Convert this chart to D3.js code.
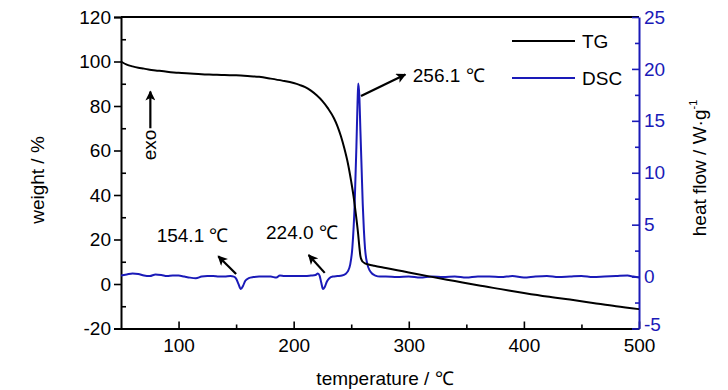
<!DOCTYPE html>
<html><head><meta charset="utf-8">
<script src="https://cdn.jsdelivr.net/npm/d3@7"></script>
<style>body{margin:0;background:#fff}svg{display:block}text{font-family:"Liberation Sans",Arial,sans-serif}</style>
</head><body><svg id="c" width="728" height="390"></svg>
<script>
// ---- data ----
const tgTemp   = [50,55,60,65,70,75,80,90,100,110,120,130,140,150,160,170,180,190,200,205,210,215,220,225,230,235,238,241,244,247,250,252,254,256,257,258,259,260,262,265,270,280,290,300,320,340,360,380,400,420,440,460,480,500];
const tgWeight = [100,98.6,97.8,97.2,96.8,96.3,96.0,95.4,94.9,94.6,94.3,94.1,93.9,93.8,93.5,93.1,92.3,91.4,90.3,89.5,88.5,86.9,84.8,82.2,78.8,74.5,71.0,66.5,61.0,54.5,46.0,39.5,31.5,22.5,17.0,12.5,10.8,10.0,9.3,8.8,8.2,7.2,6.2,5.2,3.2,1.3,-0.6,-2.3,-4.0,-5.6,-7.0,-8.5,-10.0,-11.3];
const dscTemp  = [50,55,60,65,70,75,80,85,90,95,100,105,110,115,120,125,130,135,140,145,148,150,152,154.1,156,158,161,165,170,175,180,185,188,192,200,205,210,215,219,221,222.5,224,225.5,227,229,231,234,238,242,245,247,249,251,253,254.5,255.5,256.1,257,258,259,260,261,262,264,266,268,271,275,280,290,300,310,320,330,340,350,360,370,380,390,400,410,420,430,440,450,460,470,480,490,495,500];
const dscFlow  = [0.1,0.2,0.3,0.25,0.1,0.05,0.2,0.15,0.05,0.1,0.1,0.0,-0.1,-0.15,0.0,0.05,0.05,0.0,0.0,0.05,0.0,-0.2,-0.7,-1.2,-0.9,-0.4,-0.15,-0.05,0.0,0.0,0.0,-0.1,0.1,0.05,0.05,0.05,0.05,0.1,0.15,0.3,0.1,-0.6,-1.2,-1.0,-0.45,-0.15,0.0,0.05,0.1,0.25,0.5,1.1,2.8,7.0,12.5,16.8,18.6,17.5,14.0,10.5,7.0,4.5,2.7,1.2,0.6,0.3,0.1,0.0,0.0,-0.05,0.0,-0.1,0.0,-0.05,0.0,-0.1,0.0,0.0,-0.05,0.05,-0.1,0.0,0.05,-0.05,0.0,0.05,-0.05,0.0,0.05,0.1,0.0,-0.1];
const xTicks = [100,200,300,400,500];
const xMinor = [150,250,350,450];
const yTicks = [-20,0,20,40,60,80,100,120];
const yMinor = [-10,10,30,50,70,90,110];
const y2Ticks = [-5,0,5,10,15,20,25];
const y2Minor = [-2.5,2.5,7.5,12.5,17.5,22.5];
const seriesNames = ["TG","DSC"];
// annotations in data units (temperature / weight %)
const notes = [
  {label:"256.1 \u2103", tx:303.5, ty:93, x0:258.5, y0:84.5, x1:297, y1:94.2},
  {label:"154.1 \u2103", tx:81, ty:21, x0:150, y0:4.5, x1:134.5, y1:12.5},
  {label:"224.0 \u2103", tx:176, ty:22.5, x0:227, y0:5, x1:213, y1:13}
];

const svg = d3.select("#c");
const L=121, R=639, T=17, B=328.5;
const x = d3.scaleLinear().domain([50,500]).range([L,R]);
const y = d3.scaleLinear().domain([-20,120]).range([B,T]);
const y2 = d3.scaleLinear().domain([-5,25]).range([B,T]);
const blue = "#1a1ab8";
const fmt = d => String(d);

svg.append("defs").append("marker").attr("id","ah").attr("viewBox","0 0 10 10")
  .attr("refX",9).attr("refY",5).attr("markerWidth",5).attr("markerHeight",4.5)
  .attr("markerUnits","strokeWidth").attr("orient","auto")
  .append("path").attr("d","M0,0 L10,5 L0,10 L2.5,5 z").attr("fill","#000");

// frame top
svg.append("line").attr("x1",L).attr("x2",R).attr("y1",T).attr("y2",T).attr("stroke","#000").attr("stroke-width",2);

// left axis
const gl = svg.append("g").attr("transform",`translate(${L},0)`);
gl.call(d3.axisLeft(y).tickValues(yTicks).tickSize(7).tickPadding(3).tickFormat(fmt));
gl.append("g").call(d3.axisRight(y).tickValues(yMinor).tickSize(5).tickFormat("")).select(".domain").remove();
gl.selectAll(".domain").attr("stroke-width",2);
gl.selectAll("line").attr("stroke-width",1.6);
gl.selectAll("text").attr("font-size",19).attr("fill","#000");

// bottom axis
const gb = svg.append("g").attr("transform",`translate(0,${B})`);
gb.call(d3.axisBottom(x).tickValues(xTicks).tickSize(0).tickPadding(10).tickFormat(fmt));
gb.selectAll(".domain").attr("stroke-width",2);
gb.selectAll("text").attr("font-size",19).attr("fill","#000");
gb.append("g").call(d3.axisTop(x).tickValues(xTicks).tickSize(7).tickFormat("")).select(".domain").remove();
gb.append("g").call(d3.axisTop(x).tickValues(xMinor).tickSize(4).tickFormat("")).select(".domain").remove();
gb.selectAll("line").attr("stroke-width",1.6);

// right axis
const gr = svg.append("g").attr("transform",`translate(${R},0)`);
gr.call(d3.axisRight(y2).tickValues(y2Ticks).tickSize(0).tickPadding(5).tickFormat(fmt));
gr.selectAll(".domain").attr("stroke",blue).attr("stroke-width",2);
gr.selectAll("text").attr("font-size",19).attr("fill",blue);
gr.selectAll(".tick text").filter(d=>d===-5).attr("dy","0.1em");
gr.append("g").call(d3.axisLeft(y2).tickValues(y2Ticks).tickSize(7).tickFormat("")).select(".domain").remove();
gr.append("g").call(d3.axisLeft(y2).tickValues(y2Minor).tickSize(4).tickFormat("")).select(".domain").remove();
gr.selectAll("line").attr("stroke",blue).attr("stroke-width",1.6);

// lines
const tgData = tgTemp.map((t,i)=>[t,tgWeight[i]]);
const dscData = dscTemp.map((t,i)=>[t,dscFlow[i]]);
svg.append("path").datum(dscData).attr("fill","none").attr("stroke",blue).attr("stroke-width",2)
  .attr("d",d3.line().x(d=>x(d[0])).y(d=>y2(d[1])).curve(d3.curveMonotoneX));
svg.append("path").datum(tgData).attr("fill","none").attr("stroke","#000").attr("stroke-width",2)
  .attr("d",d3.line().x(d=>x(d[0])).y(d=>y(d[1])).curve(d3.curveMonotoneX));

// legend
const lg = svg.append("g");
seriesNames.forEach((n,i)=>{
  const yy = 41 + i*37;
  lg.append("line").attr("x1",512).attr("x2",575).attr("y1",yy).attr("y2",yy)
    .attr("stroke",i?blue:"#000").attr("stroke-width",2);
  lg.append("text").attr("x",582).attr("y",yy+7).attr("font-size",19).text(n);
});

// annotations
notes.forEach(n=>{
  svg.append("text").attr("x",x(n.tx)).attr("y",y(n.ty)).attr("font-size",19).attr("dominant-baseline","middle").text(n.label);
  svg.append("line").attr("x1",x(n.x0)).attr("y1",y(n.y0)).attr("x2",x(n.x1)).attr("y2",y(n.y1))
    .attr("stroke","#000").attr("stroke-width",2.2).attr("marker-end","url(#ah)");
});

// exo
svg.append("line").attr("x1",x(75.5)).attr("x2",x(75.5)).attr("y1",y(70)).attr("y2",y(86.5))
  .attr("stroke","#000").attr("stroke-width",2.2).attr("marker-end","url(#ah)");
svg.append("text").attr("transform",`translate(${x(75.5)+6},${y(62.5)}) rotate(-90)`)
  .attr("text-anchor","middle").attr("font-size",19).text("exo");

// axis titles
svg.append("text").attr("transform","translate(44,180) rotate(-90)").attr("text-anchor","middle").attr("font-size",19).text("weight / %");
svg.append("text").attr("x",385).attr("y",385).attr("text-anchor","middle").attr("font-size",19).text("temperature / \u2103");
const rt = svg.append("text").attr("transform","translate(706,168) rotate(-90)").attr("text-anchor","middle").attr("font-size",19);
rt.append("tspan").text("heat flow / W\u00b7g");
rt.append("tspan").attr("font-size",11).attr("dy",-9).text("-1");
</script></body></html>
